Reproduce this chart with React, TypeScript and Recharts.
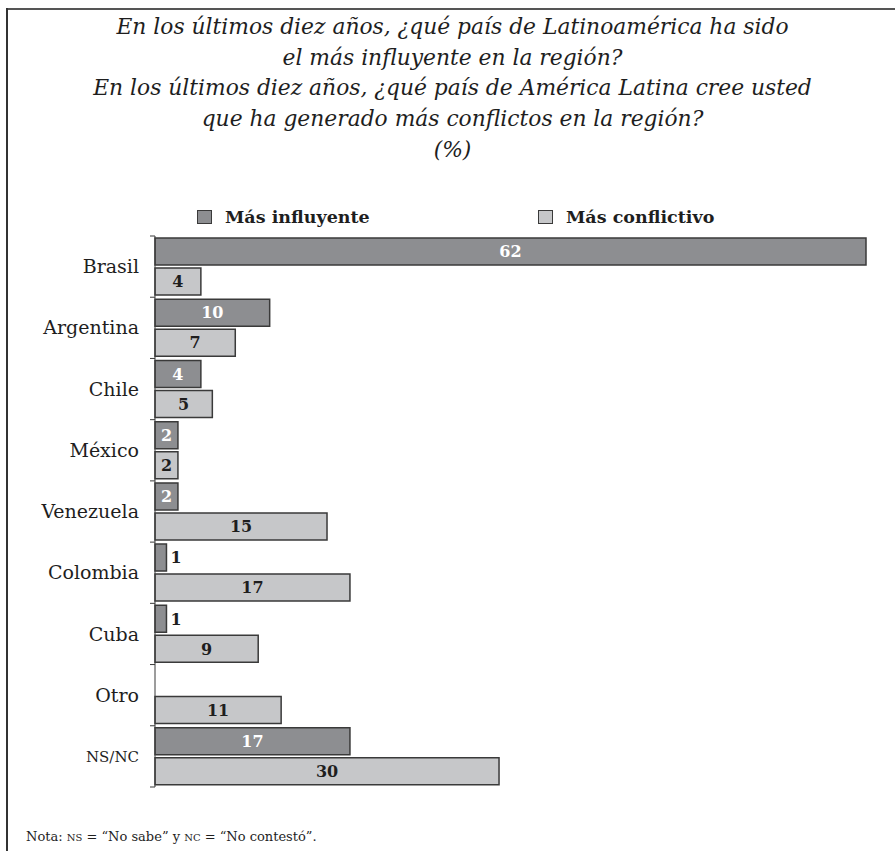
import { Bar, BarChart, LabelList, XAxis, YAxis } from "recharts";

const categories = ["Brasil", "Argentina", "Chile", "México", "Venezuela", "Colombia", "Cuba", "Otro", "NS/NC"];
const influyente = [62, 10, 4, 2, 2, 1, 1, null, 17];
const conflictivo = [4, 7, 5, 2, 15, 17, 9, 11, 30];

const titleLines = [
  "En los últimos diez años, ¿qué país de Latinoamérica ha sido",
  "el más influyente en la región?",
  "En los últimos diez años, ¿qué país de América Latina cree usted",
  "que ha generado más conflictos en la región?",
  "(%)",
];

const SERIF = "'DejaVu Serif', 'Liberation Serif', serif";
const DARK = "#8d8e91";
const LIGHT = "#c6c7c9";
const EDGE = "#3a3a3a";
const BAND = 551 / categories.length;

const data = categories.map((c, i) => ({
  name: c,
  influyente: influyente[i],
  conflictivo: conflictivo[i],
}));

function CountryTick(props: any) {
  const { x, y, payload, index } = props;
  const half = BAND / 2;
  const isNs = payload.value === "NS/NC";
  return (
    <g>
      <line x1={x + 12} x2={x + 17} y1={y - half} y2={y - half} stroke={EDGE} />
      {index === categories.length - 1 && (
        <line x1={x + 12} x2={x + 17} y1={y + half} y2={y + half} stroke={EDGE} />
      )}
      <text
        x={x + 1}
        y={y}
        dy="0.35em"
        textAnchor="end"
        fill="#1e1e1e"
        fontFamily={SERIF}
        fontSize={isNs ? 15 : 19}
      >
        {payload.value}
      </text>
    </g>
  );
}

// value labels: centred inside, or just outside when the bar is too thin
function makeLabel(inside: string) {
  return (props: any) => {
    const { x, y, width, height, value } = props;
    if (value == null) return null;
    const outside = value < 2;
    return (
      <text
        x={outside ? x + width + 4 : x + width / 2}
        y={y + height / 2}
        dy="0.36em"
        textAnchor={outside ? "start" : "middle"}
        fill={outside ? "#1e1e1e" : inside}
        fontFamily={SERIF}
        fontWeight="bold"
        fontSize={16}
      >
        {value}
      </text>
    );
  };
}

function LegendItem({ left, fill, label }: { left: number; fill: string; label: string }) {
  return (
    <div style={{ position: "absolute", left, top: 207, display: "flex", alignItems: "center" }}>
      <span
        style={{
          width: 13,
          height: 12,
          background: fill,
          border: `1px solid ${EDGE}`,
          marginRight: 13,
        }}
      />
      <span style={{ fontFamily: SERIF, fontWeight: "bold", fontSize: 17.5, color: "#1e1e1e" }}>{label}</span>
    </div>
  );
}

export default function App() {
  return (
    <div
      style={{
        position: "fixed",
        left: 0,
        top: 0,
        width: 895,
        height: 851,
        overflow: "hidden",
        background: "#fff",
      }}
    >
      <div
        style={{
          position: "absolute",
          left: 0,
          top: 12,
          width: 905,
          textAlign: "center",
          fontFamily: SERIF,
          fontStyle: "italic",
          fontSize: 21.8,
          lineHeight: "30.7px",
          color: "#1e1e1e",
        }}
      >
        {titleLines.map((t) => (
          <div key={t}>{t}</div>
        ))}
      </div>
      <LegendItem left={197} fill={DARK} label="Más influyente" />
      <LegendItem left={538} fill={LIGHT} label="Más conflictivo" />
      <div style={{ position: "absolute", left: 0, top: 0 }}>
        <BarChart
          width={895}
          height={851}
          data={data}
          layout="vertical"
          margin={{ top: 236, right: 29, bottom: 64, left: 15 }}
          barCategoryGap={2}
          barGap={3}
        >
          <XAxis type="number" domain={[0, 62]} hide />
          <YAxis
            type="category"
            dataKey="name"
            width={140}
            axisLine={{ stroke: EDGE }}
            tickLine={false}
            tickSize={0}
            tickMargin={17}
            tick={<CountryTick />}
            interval={0}
          />
          <Bar dataKey="influyente" fill={DARK} stroke={EDGE} strokeWidth={1.5} isAnimationActive={false}>
            <LabelList dataKey="influyente" content={makeLabel("#fff")} />
          </Bar>
          <Bar dataKey="conflictivo" fill={LIGHT} stroke={EDGE} strokeWidth={1.5} isAnimationActive={false}>
            <LabelList dataKey="conflictivo" content={makeLabel("#1e1e1e")} />
          </Bar>
        </BarChart>
      </div>
      <div
        style={{
          position: "absolute",
          left: 26,
          top: 829,
          fontFamily: SERIF,
          fontSize: 13,
          color: "#1e1e1e",
        }}
      >
        Nota: <span style={{ fontSize: 10 }}>NS</span> = “No sabe” y <span style={{ fontSize: 10 }}>NC</span> =
        “No contestó”.
      </div>
      {/* frame: only the top and left edges are in view */}
      <div style={{ position: "absolute", left: 6, top: 8, width: 889, height: 2, background: "#555", zIndex: 5 }} />
      <div style={{ position: "absolute", left: 6, top: 8, width: 2, height: 843, background: "#333", zIndex: 5 }} />
    </div>
  );
}
